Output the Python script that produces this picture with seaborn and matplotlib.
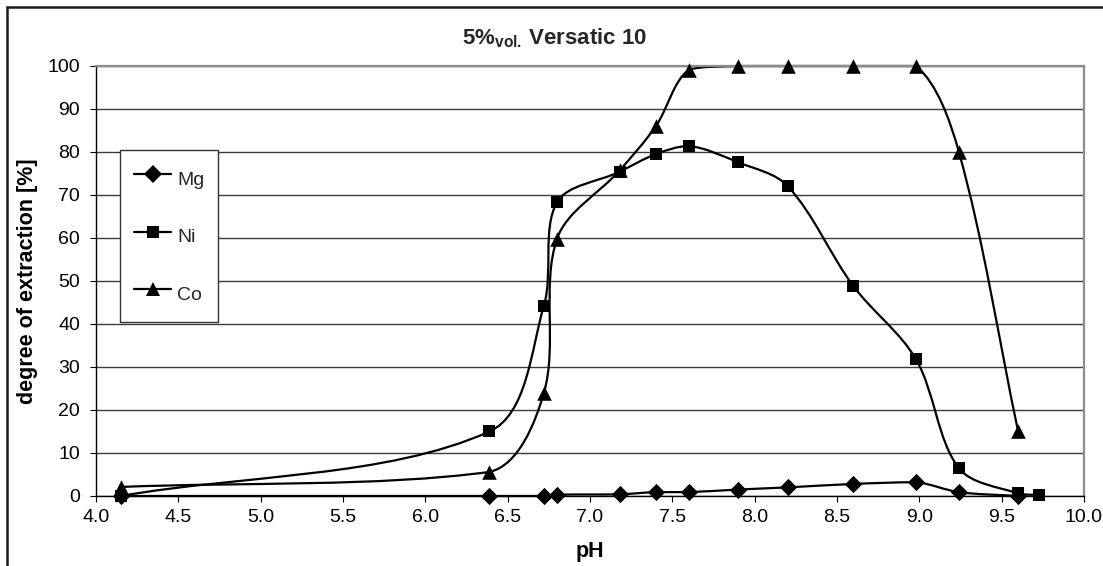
import numpy as np
import pandas as pd
import matplotlib
matplotlib.use('Agg')
import matplotlib.pyplot as plt
import seaborn as sns
from matplotlib.path import Path
from matplotlib.patches import PathPatch, Rectangle
from matplotlib.lines import Line2D

# pH values of the measurement points
ph_mg = [4.15, 6.39, 6.72, 6.80, 7.18, 7.40, 7.60, 7.90, 8.20, 8.60, 8.98, 9.24, 9.60]
ph_ni = [4.15, 6.39, 6.72, 6.80, 7.18, 7.40, 7.60, 7.90, 8.20, 8.60, 8.98, 9.24, 9.60, 9.73]
ph_co = [4.15, 6.39, 6.72, 6.80, 7.18, 7.40, 7.60, 7.90, 8.20, 8.60, 8.98, 9.24, 9.60]

# degree of extraction [%]
mg = [0.0, 0.0, 0.0, 0.3, 0.4, 0.9, 0.9, 1.5, 2.0, 2.8, 3.2, 0.9, 0.0]
ni = [0.0, 15.0, 44.2, 68.3, 75.4, 79.5, 81.4, 77.6, 72.1, 48.8, 31.8, 6.5, 0.6, 0.2]
co = [2.1, 5.6, 23.9, 59.8, 75.7, 86.0, 99.1, 100.0, 100.0, 100.0, 100.0, 80.1, 15.1]

labels = ['Mg', 'Ni', 'Co']
markers = ['D', 's', '^']
marker_sizes = [8.8, 8.2, 10.5]

x_ticks = np.arange(4.0, 10.01, 0.5)
y_ticks = np.arange(0, 101, 10)

# approx. pixels per unit on screen, used to weight the smoothing
PX_X, PX_Y = 164.7, 4.3


def smooth_path(x, y):
    # Excel style smoothed line: cubic Bezier through the points,
    # tangents weighted by chord length, control points kept in segment y range
    pts = np.column_stack([x, y]).astype(float)
    ext = np.vstack([pts[0], pts, pts[-1]])
    scale = np.array([PX_X, PX_Y])

    def dist(a, b):
        return np.hypot(*((b - a) * scale))

    verts = [tuple(pts[0])]
    codes = [Path.MOVETO]
    for i in range(1, len(ext) - 2):
        p0, p1, p2, p3 = ext[i - 1], ext[i], ext[i + 1], ext[i + 2]
        d01, d12, d23 = dist(p0, p1), dist(p1, p2), dist(p2, p3)
        w1 = d12 / (d01 + d12) if d01 + d12 > 0 else 0.5
        w2 = d12 / (d12 + d23) if d12 + d23 > 0 else 0.5
        c1 = p1 + (p2 - p0) * w1 / 3.0
        c2 = p2 - (p3 - p1) * w2 / 3.0
        lo, hi = min(p1[1], p2[1]), max(p1[1], p2[1])
        c1[1] = np.clip(c1[1], lo, hi)
        c2[1] = np.clip(c2[1], lo, hi)
        verts += [tuple(c1), tuple(c2), tuple(p2)]
        codes += [Path.CURVE4] * 3
    return Path(verts, codes)


sns.set_theme(style='white')
plt.rcParams['font.family'] = ['Liberation Sans', 'DejaVu Sans']
plt.rcParams['mathtext.fontset'] = 'custom'
plt.rcParams['mathtext.rm'] = 'Liberation Sans'
plt.rcParams['mathtext.bf'] = 'Liberation Sans:bold'

fig = plt.figure(figsize=(11.03, 5.66), dpi=100)
ax = fig.add_axes([0.0870, 0.1237, 0.8957, 0.7597])

series = [(ph_mg, mg), (ph_ni, ni), (ph_co, co)]
handles = []
for (px, vals), lab, mk, ms in zip(series, labels, markers, marker_sizes):
    ax.add_patch(PathPatch(smooth_path(px, vals), fill=False, lw=1.6,
                           ec='black', zorder=2, clip_on=False))
    sns.scatterplot(x=px, y=vals, marker=mk, s=ms ** 2, color='black',
                    linewidth=0, ax=ax, zorder=3, clip_on=False, legend=False)
    handles.append(Line2D([], [], color='black', lw=1.6, marker=mk,
                          markersize=ms, markeredgewidth=0, label=lab))

ax.set_xlim(4.0, 10.0)
ax.set_ylim(0, 100)
ax.set_xticks(x_ticks)
ax.set_xticklabels([f'{v:.1f}' for v in x_ticks])
ax.set_yticks(y_ticks)

ax.yaxis.grid(True, color='#3c3c3c', lw=1.0)
ax.xaxis.grid(False)
ax.set_axisbelow(True)

for side in ['left', 'bottom']:
    ax.spines[side].set_color('black')
    ax.spines[side].set_linewidth(1.0)
for side in ['top', 'right']:
    ax.spines[side].set_color('#8c8c8c')
    ax.spines[side].set_linewidth(1.6)

ax.tick_params(axis='both', which='major', bottom=True, left=True,
               direction='out', length=4.5, width=0.8, color='black',
               labelsize=14, labelcolor='black')
ax.tick_params(axis='y', pad=7)
ax.tick_params(axis='x', pad=5)

ax.set_xlabel('pH', fontsize=15.5, fontweight='bold', color='black', labelpad=11)
ax.set_ylabel('degree of extraction [%]', fontsize=15.5, fontweight='bold',
              color='black', labelpad=7)

leg = ax.legend(handles=handles, loc='upper left', bbox_to_anchor=(0.0243, 0.8047),
                borderaxespad=0, frameon=True, fancybox=False, fontsize=14,
                handlelength=1.95, handletextpad=0.3, borderpad=0.7,
                handleheight=2.0, labelspacing=1.41)
leg.get_frame().set_edgecolor('#333333')
leg.get_frame().set_linewidth(1.0)
leg.get_frame().set_facecolor('white')
leg.get_frame().set_alpha(1)

fig.text(555 / 1103, 1 - 38 / 566, r'5%$_{\mathbf{vol.}}\,$Versatic 10',
         ha='center', va='center', fontsize=16, fontweight='bold')

# outer chart border
fig.patches.append(Rectangle((7 / 1103, -0.2), 1.2, 1.2 - 7 / 566, fill=False,
                             lw=1.8, ec='#1a1a1a', transform=fig.transFigure,
                             figure=fig))

fig.savefig('out.png', dpi=100, facecolor='white')
